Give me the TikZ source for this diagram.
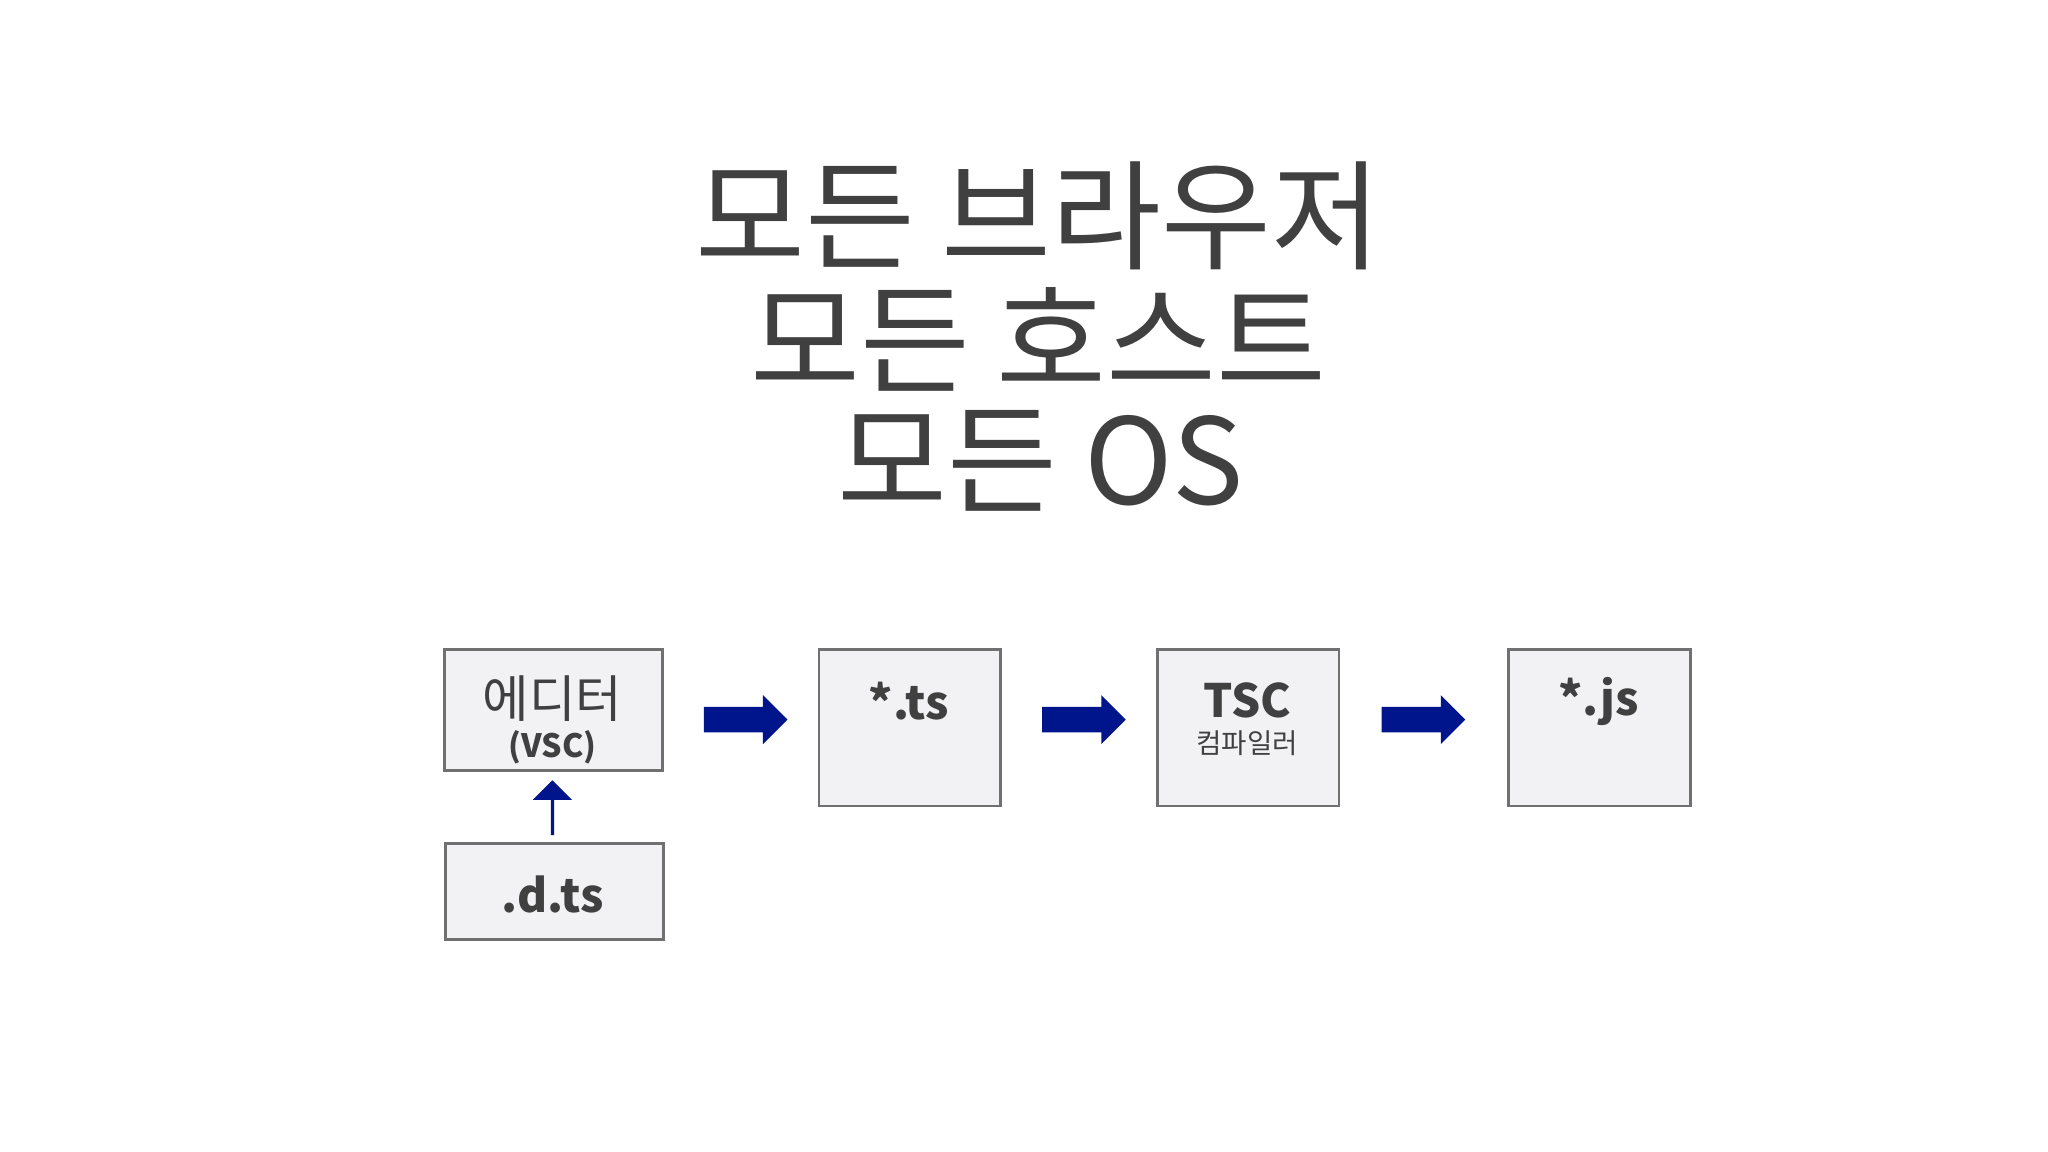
\documentclass[tikz,border=0pt]{standalone}
\usepackage{fontspec}
\setmainfont{Noto Sans CJK KR}
\usetikzlibrary{shapes.arrows}
\definecolor{txt}{HTML}{404040}
\definecolor{boxfill}{HTML}{F2F2F4}
\definecolor{boxline}{HTML}{707070}
\definecolor{arr}{HTML}{00148C}
\begin{document}
\begin{tikzpicture}[x=0.01cm,y=-0.01cm,
  box/.style={draw=boxline,fill=boxfill,line width=0.6pt,anchor=north west,inner sep=0},
  lbl/.style={text=txt,inner sep=0},
  blockarrow/.style={single arrow,fill=arr,draw=none,inner sep=0pt,
    minimum height=0.64cm,minimum width=0.36cm,single arrow head extend=0.09cm,
    text width=0pt,text height=0.18cm,text depth=0pt}]
\fill[white] (0,0) rectangle (1568,882);
\useasboundingbox (0,0) rectangle (1568,882);
\node[lbl,font=\fontsize{26pt}{27pt}\selectfont] (t1) at (795,165) {모든 브라우저};
\node[lbl,font=\fontsize{26pt}{27pt}\selectfont] (t2) at (795,260) {모든 호스트};
\node[lbl,font=\fontsize{26pt}{27pt}\selectfont] (t3) at (797,353) {모든 OS};
\node[box,minimum width=1.67cm,minimum height=0.93cm] (ed) at (339,496) {};
\node[box,minimum width=1.67cm,minimum height=0.73cm] (dts) at (340,645) {};
\node[box,minimum width=1.39cm,minimum height=1.2cm] (ts) at (626,496) {};
\node[box,minimum width=1.39cm,minimum height=1.2cm] (tsc) at (885,496) {};
\node[box,minimum width=1.39cm,minimum height=1.2cm] (js) at (1154,496) {};
\node[lbl,font=\fontsize{11pt}{12pt}\selectfont] (edl) at (423,535) {에디터};
\node[lbl,font=\fontsize{7pt}{8pt}\selectfont\bfseries] (vsc) at (423,572) {(VSC)};
\node[lbl,font=\fontsize{10pt}{11pt}\selectfont\bfseries] (dtsl) at (423,685) {.d.ts};
\node[lbl,font=\fontsize{10pt}{11pt}\selectfont\bfseries] (tsl) at (696,537) {*.ts};
\node[lbl,font=\fontsize{10pt}{11pt}\selectfont\bfseries] (tscl) at (955,536) {TSC};
\node[lbl,font=\fontsize{6pt}{7pt}\selectfont] (comp) at (955,569) {컴파일러};
\node[lbl,font=\fontsize{10pt}{11pt}\selectfont\bfseries] (jsl) at (1224,537) {*.js};
\node[blockarrow] (a1) at (566,551) {};
\node[blockarrow] (a2) at (825,551) {};
\node[blockarrow] (a3) at (1085,551) {};
\node[blockarrow,shape border rotate=90,minimum height=0.42cm,minimum width=0.3cm,
  single arrow head extend=0.08cm,text height=0.14cm] (a4) at (423,619) {};
\end{tikzpicture}
\end{document}
